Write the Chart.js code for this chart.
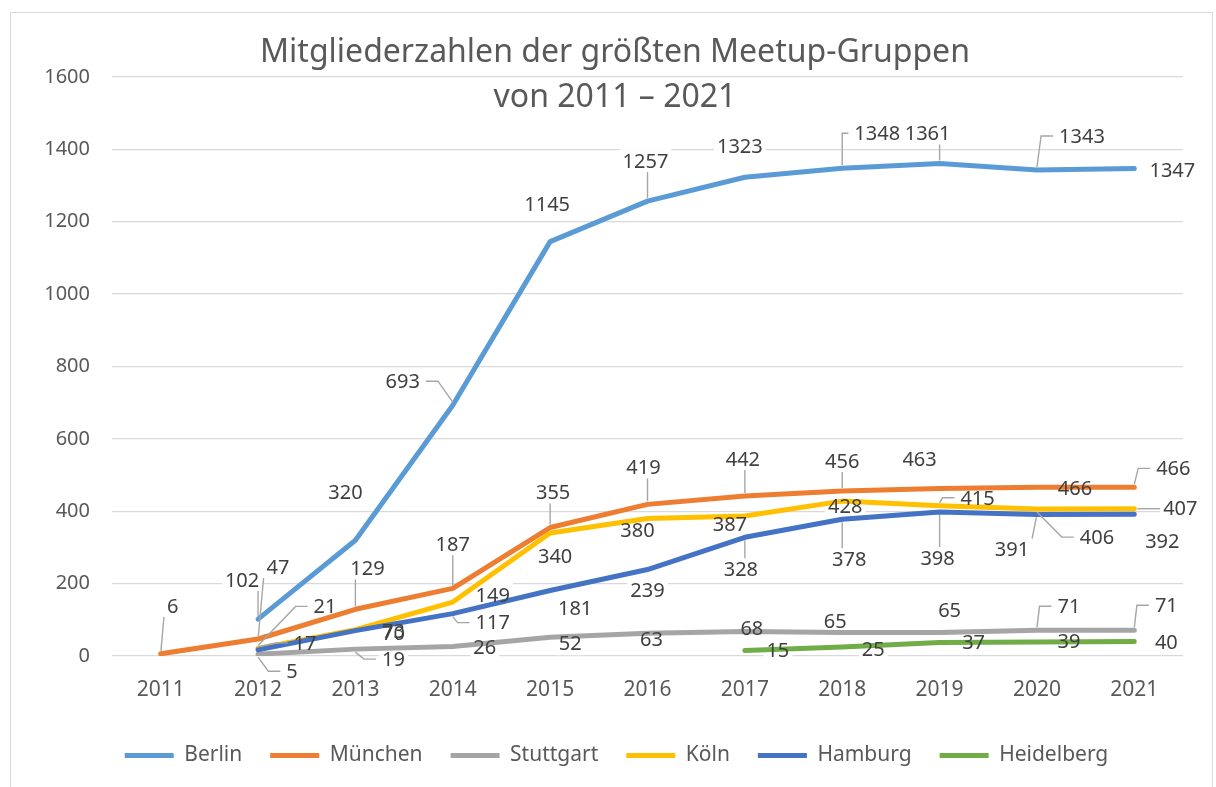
<!DOCTYPE html>
<html>
<head>
<meta charset="utf-8">
<script src="https://cdn.jsdelivr.net/npm/chart.js@4.4.0/dist/chart.umd.min.js"></script>
<style>
  html, body { margin: 0; padding: 0; background: #fff; }
  #meetup-chart { display: block; }
</style>
</head>
<body>
<canvas id="meetup-chart" width="1216" height="787"></canvas>
<script>
// Meetup chart data
const years = ["2011", "2012", "2013", "2014", "2015", "2016", "2017", "2018", "2019", "2020", "2021"];
const berlin = [null, 102, 320, 693, 1145, 1257, 1323, 1348, 1361, 1343, 1347];
const muenchen = [6, 47, 129, 187, 355, 419, 442, 456, 463, 466, 466];
const stuttgart = [null, 5, 19, 26, 52, 63, 68, 65, 65, 71, 71];
const koeln = [null, 21, 73, 149, 340, 380, 387, 428, 415, 406, 407];
const hamburg = [null, 17, 70, 117, 181, 239, 328, 378, 398, 391, 392];
const heidelberg = [null, null, null, null, null, null, 15, 25, 37, 39, 40];
const yTicks = [0, 200, 400, 600, 800, 1000, 1200, 1400, 1600];

const titleLines = ["Mitgliederzahlen der größten Meetup-Gruppen", "von 2011 – 2021"];

// label offsets from the point: [dx, dy, leader] leader 0 none, 1 straight, 2 elbow
const labelPlacement = {
  Berlin: [null, [-16, -39, 1], [-10, -48, 0], [-50, -24, 2], [-3, -37, 0], [-2, -40, 1], [-5, -31, 0], [35, -35, 2], [-12, -30, 1], [45, -34, 2], [38, 2, 0]],
  "München": [[12, -48, 1], [20, -72, 1], [12, -41, 1], [0, -44, 1], [3, -35, 1], [-4, -37, 1], [-2, -37, 1], [0, -30, 1], [-20, -29, 0], [38, 1, 0], [39, -19, 2]],
  Stuttgart: [null, [34, 17, 2], [38, 10, 2], [32, 1, 0], [20, 6, 0], [4, 6, 0], [7, -3, 0], [-7, -11, 0], [10, -22, 0], [32, -24, 2], [32, -25, 2]],
  "Köln": [null, [67, -42, 2], [38, 2, 0], [40, -7, 0], [5, 23, 0], [-10, 12, 0], [-15, 8, 0], [3, 5, 0], [38, -8, 2], [60, 28, 2], [46, 0, 1]],
  Hamburg: [null, [47, -7, 2], [38, 3, 0], [40, 9, 2], [25, 18, 0], [0, 21, 0], [-4, 32, 1], [7, 40, 1], [-2, 46, 1], [-25, 35, 1], [28, 27, 0]],
  Heidelberg: [null, null, null, null, null, null, [33, 0, 0], [31, 2, 0], [34, 0, 0], [32, -1, 0], [32, 1, 0]],
};

Chart.defaults.font.family = "'Noto Sans', sans-serif";
Chart.defaults.color = "#595959";

const labelFont = "20px 'Noto Sans'";

function collectLabels(chart) {
  const ctx = chart.ctx;
  ctx.save();
  ctx.font = labelFont;
  const out = [];
  chart.data.datasets.forEach((ds, di) => {
    const meta = chart.getDatasetMeta(di);
    const place = labelPlacement[ds.label];
    ds.data.forEach((v, i) => {
      if (v === null || !place[i]) return;
      const pt = meta.data[i];
      const [dx, dy, leader] = place[i];
      const text = String(v);
      const w = ctx.measureText(text).width;
      out.push({ text, px: pt.x, py: pt.y, cx: pt.x + dx, cy: pt.y + dy, w, leader });
    });
  });
  ctx.restore();
  return out;
}

// Excel-like data labels with leader lines
const dataLabels = {
  id: "dataLabels",
  beforeDatasetsDraw(chart) {
    const ctx = chart.ctx;
    ctx.save();
    ctx.fillStyle = "#ffffff";
    collectLabels(chart).forEach((l) => {
      ctx.fillRect(l.cx - l.w / 2 - 3, l.cy - 12, l.w + 6, 24);
    });
    ctx.restore();
  },
  afterDatasetsDraw(chart) {
    const ctx = chart.ctx;
    const labels = collectLabels(chart);
    ctx.save();
    ctx.strokeStyle = "#a6a6a6";
    ctx.lineWidth = 1.4;
    labels.forEach((l) => {
      if (!l.leader) return;
      const left = l.cx - l.w / 2, right = l.cx + l.w / 2;
      ctx.beginPath();
      if (l.leader === 2) {
        let endX, bendX;
        if (l.cx > l.px) {
          endX = left - 6;
          bendX = Math.max(endX - 12, l.px);
        } else {
          endX = right + 6;
          bendX = Math.min(endX + 12, l.px);
        }
        const sy = l.py + (l.cy > l.py ? 3 : -3);
        ctx.moveTo(l.px, sy);
        ctx.lineTo(bendX, l.cy);
        ctx.lineTo(endX, l.cy);
      } else {
        const tx = Math.min(Math.max(l.px, left - 3), right + 3);
        const ty = Math.min(Math.max(l.py, l.cy - 11), l.cy + 11);
        const d = Math.hypot(tx - l.px, ty - l.py);
        if (d < 6) return;
        ctx.moveTo(l.px + (tx - l.px) * 3 / d, l.py + (ty - l.py) * 3 / d);
        ctx.lineTo(tx, ty);
      }
      ctx.stroke();
    });
    ctx.font = labelFont;
    ctx.fillStyle = "#404040";
    ctx.textAlign = "center";
    ctx.textBaseline = "middle";
    labels.forEach((l) => {
      ctx.fillText(l.text, l.cx, l.cy + 1);
    });
    ctx.restore();
  },
};

// Frame and overlaid title
const frameAndTitle = {
  id: "frameAndTitle",
  beforeDraw(chart) {
    const ctx = chart.ctx;
    ctx.save();
    ctx.fillStyle = "#ffffff";
    ctx.fillRect(0, 0, chart.width, chart.height);
    ctx.strokeStyle = "#d9d9d9";
    ctx.lineWidth = 1;
    ctx.strokeRect(10.5, 12.5, 1202, 800);
    ctx.restore();
  },
  afterDraw(chart) {
    const ctx = chart.ctx;
    ctx.save();
    ctx.font = "32px 'Noto Sans'";
    ctx.fillStyle = "#595959";
    ctx.textAlign = "center";
    ctx.textBaseline = "middle";
    ctx.fillText(titleLines[0], 615, 53);
    ctx.fillText(titleLines[1], 615, 98);
    ctx.restore();
  },
};

const colors = ["#5b9bd5", "#ed7d31", "#a5a5a5", "#ffc000", "#4472c4", "#70ad47"];
const seriesNames = ["Berlin", "München", "Stuttgart", "Köln", "Hamburg", "Heidelberg"];
const seriesValues = [berlin, muenchen, stuttgart, koeln, hamburg, heidelberg];

const meetupChart = new Chart(document.getElementById("meetup-chart"), {
  type: "line",
  data: {
    labels: years,
    datasets: seriesNames.map((name, i) => ({
      label: name,
      data: seriesValues[i],
      borderColor: colors[i],
      backgroundColor: colors[i],
      borderWidth: 5,
      borderCapStyle: "round",
      borderJoinStyle: "round",
      pointRadius: 0,
      pointHoverRadius: 0,
      tension: 0,
      fill: false,
      order: seriesNames.length - i,
    })),
  },
  options: {
    responsive: false,
    animation: false,
    events: [],
    layout: { padding: { left: 30, right: 13, top: 77, bottom: 11 } },
    scales: {
      x: {
        offset: true,
        grid: { display: false },
        border: { display: false },
        ticks: { font: { size: 21 }, color: "#595959", padding: 13, maxRotation: 0 },
        afterFit(scale) { scale.height = 61; },
      },
      y: {
        min: 0,
        max: 1600,
        afterBuildTicks(scale) { scale.ticks = yTicks.map((v) => ({ value: v })); },
        grid: { color: "#d9d9d9", lineWidth: 1.3, drawTicks: false },
        border: { display: false },
        ticks: { font: { size: 20 }, color: "#595959", padding: 22, callback: (v) => String(v) },
        afterFit(scale) { scale.width = 82; },
      },
      spacer: {
        type: "linear",
        position: "right",
        min: 0,
        max: 1,
        grid: { display: false },
        border: { display: false },
        ticks: { display: false },
        afterFit(scale) { scale.width = 20; },
      },
    },
    plugins: {
      legend: {
        position: "bottom",
        labels: {
          usePointStyle: true,
          pointStyle: "line",
          pointStyleWidth: 49,
          padding: 28,
          font: { size: 21 },
          color: "#595959",
          sort: (a, b) => a.datasetIndex - b.datasetIndex,
        },
      },
      tooltip: { enabled: false },
      title: { display: false },
    },
  },
  plugins: [frameAndTitle, dataLabels],
});
</script>
</body>
</html>
